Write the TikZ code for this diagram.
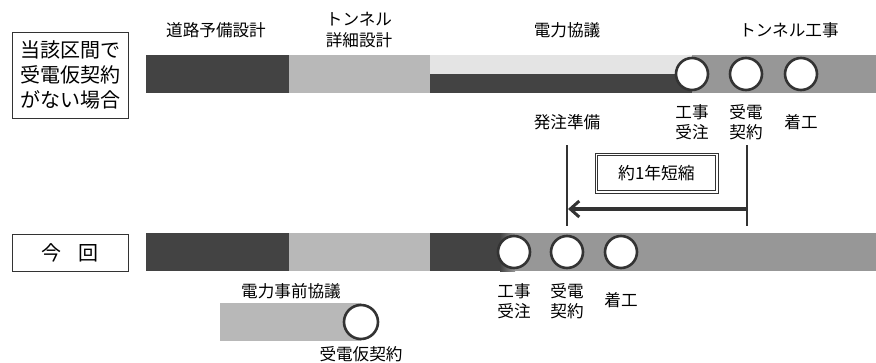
\documentclass[tikz,border=0pt]{standalone}
\usepackage{fontspec}
\setmainfont{Noto Sans CJK JP}
\usetikzlibrary{arrows.meta}
\definecolor{cdark}{HTML}{434343}
\definecolor{clight}{HTML}{B8B8B8}
\definecolor{cvlight}{HTML}{E4E4E4}
\definecolor{cmid}{HTML}{979797}
\definecolor{cline}{HTML}{333333}
\tikzset{
  lbl/.style={inner sep=0pt, align=center, text=black, font=\fontsize{16.6}{20.5}\selectfont},
  bigbox/.style={draw=cline, line width=0.8pt, fill=white, inner sep=0pt, align=center, font=\fontsize{20}{25}\selectfont},
  ms/.style={circle, draw=cline, line width=2.6pt, fill=white, minimum size=32pt, inner sep=0pt},
  vline/.style={draw=cline, line width=1.1pt},
  shortbox/.style={draw=cline, line width=0.8pt, fill=white, inner sep=0pt, minimum width=123pt, minimum height=40pt, font=\fontsize{16.8}{20}\selectfont},
  innerframe/.style={draw=cline, line width=0.8pt}
}
\begin{document}
\begin{tikzpicture}[x=1pt,y=-1pt]
\useasboundingbox (0,0) rectangle (876,362);
\fill[white] (0,0) rectangle (876,362);
% ---- top row ----
\node[bigbox, minimum width=116pt, minimum height=86pt] (case) at (70,75) {当該区間で\\受電仮契約\\がない場合};
\fill[cdark] (146,55) rectangle (289,93);
\fill[clight] (289,55) rectangle (430,93);
\fill[cvlight] (430,55) rectangle (692,93);
\fill[cdark] (430,74) rectangle (692,93);
\fill[cmid] (692,55) rectangle (876,93);
\node[ms] (t1) at (692,74) {};
\node[ms] (t2) at (746,74) {};
\node[ms] (t3) at (801,74) {};
\node[lbl] (l1) at (216,30) {道路予備設計};
\node[lbl] (l2) at (359,30) {トンネル\\詳細設計};
\node[lbl] (l3) at (567,30) {電力協議};
\node[lbl] (l4) at (789,30) {トンネル工事};
\node[lbl] (t1l) at (692,122) {工事\\受注};
\node[lbl] (t2l) at (746,122) {受電\\契約};
\node[lbl] (t3l) at (801,122) {着工};
\node[lbl] (prep) at (567,122) {発注準備};
% ---- shortening ----
\coordinate (a1) at (567,145);
\coordinate (a2) at (567,226);
\coordinate (b1) at (747,145);
\coordinate (b2) at (747,226);
\coordinate (as) at (747,209);
\coordinate (ae) at (568,209);
\draw[vline] (a1) -- (a2);
\draw[vline] (b1) -- (b2);
\draw[draw=cline, line width=3.6pt, -{Straight Barb[length=9pt, width=16pt, line width=3pt]}] (as) -- (ae);
\node[shortbox] (short) at (656.5,173) {約1年短縮};
\draw[innerframe] ([xshift=3.2pt,yshift=-3.2pt]short.north west) rectangle ([xshift=-3.2pt,yshift=3.2pt]short.south east);
% ---- bottom row ----
\node[bigbox, minimum width=116pt, minimum height=37pt] (now) at (70,252.5) {今\hspace{0.9em}回};
\fill[cdark] (146,233) rectangle (289,271);
\fill[clight] (289,233) rectangle (430,271);
\fill[cmid] (510,233) rectangle (876,271);
\shade[left color=cdark, right color=cmid] (500,233) rectangle (515,271);
\fill[cdark] (430,233) rectangle (501,271);
\node[ms] (b1c) at (514,252) {};
\node[ms] (b2c) at (567,252) {};
\node[ms] (b3c) at (621,252) {};
\node[lbl] (b1l) at (514,301) {工事\\受注};
\node[lbl] (b2l) at (567,301) {受電\\契約};
\node[lbl] (b3l) at (621,300) {着工};
\node[lbl] (pre) at (291,291) {電力事前協議};
\fill[clight] (220,303) rectangle (361,341);
\node[ms, minimum size=34pt] (kc) at (361,322) {};
\node[lbl] (kl) at (361,354) {受電仮契約};
\end{tikzpicture}
\end{document}
